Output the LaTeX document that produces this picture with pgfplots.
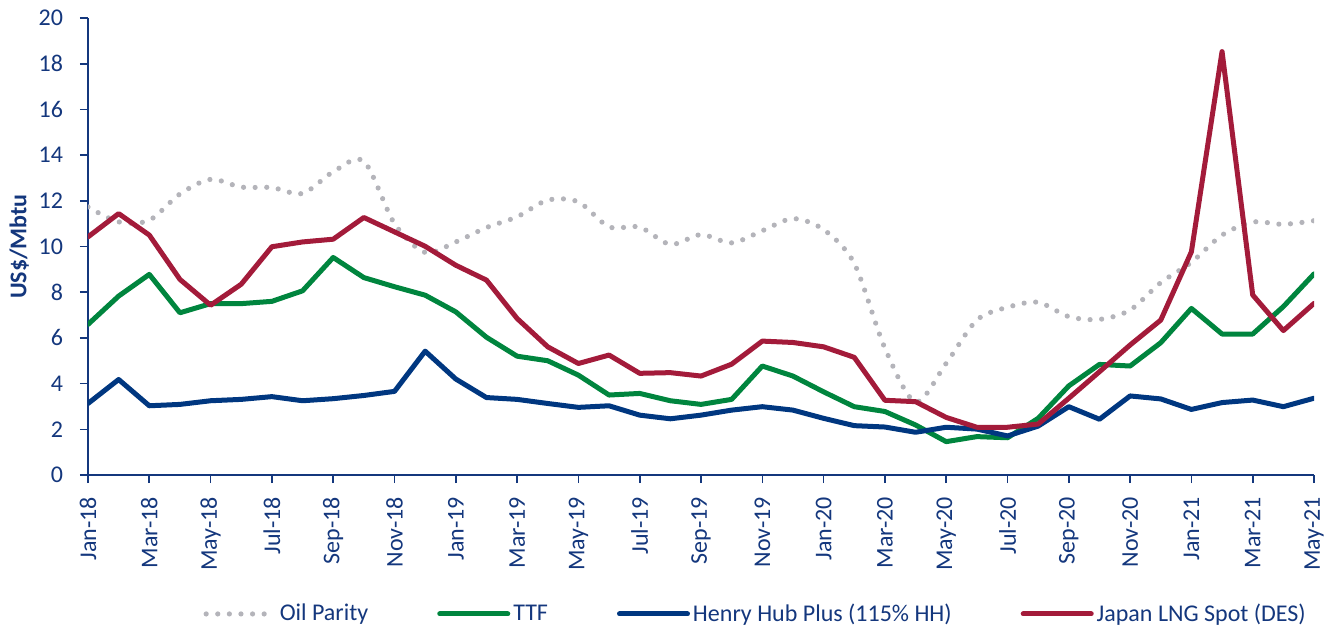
\documentclass[border=0pt]{standalone}
\usepackage{fontspec}
\setmainfont{Carlito}
\usepackage{pgfplots}
\pgfplotsset{compat=1.18}
\definecolor{navy}{RGB}{20,55,125}
\definecolor{oilgray}{RGB}{180,180,186}
\definecolor{ttfgreen}{RGB}{0,133,62}
\definecolor{hhblue}{RGB}{0,55,128}
\definecolor{lngred}{RGB}{163,27,58}
\begin{document}
\begin{tikzpicture}
\useasboundingbox (-44pt,-76.5pt) rectangle (624pt,237.5pt);
\begin{axis}[
  scale only axis,
  width=613pt, height=228.5pt,
  at={(0,0)}, anchor=south west,
  xmin=0, xmax=40, ymin=0, ymax=20,
  axis x line*=bottom, axis y line*=left,
  axis line style={navy, line width=0.9pt, -},
  xtick={0,2,...,40},
  xticklabels={Jan-18,Mar-18,May-18,Jul-18,Sep-18,Nov-18,Jan-19,Mar-19,May-19,Jul-19,Sep-19,Nov-19,Jan-20,Mar-20,May-20,Jul-20,Sep-20,Nov-20,Jan-21,Mar-21,May-21},
  ytick={0,2,...,20},
  tick align=outside,
  major tick length=4pt,
  tick style={navy, line width=0.8pt},
  xticklabel shift=3.5pt,
  yticklabel shift=5pt,
  x tick label style={rotate=90, anchor=east, font=\fontsize{12}{14}\selectfont, text=navy},
  y tick label style={font=\fontsize{12}{14}\selectfont, text=navy},
  /pgf/number format/assume math mode=true,
  ylabel={\textbf{US\$/Mbtu}},
  ylabel style={font=\fontsize{12}{14}\selectfont, text=navy, at={(axis description cs:-0.056,0.5)}, anchor=center},
  legend columns=4,
  legend style={at={(0.545,-0.304)}, anchor=center, draw=none, fill=none,
    font=\fontsize{12}{14}\selectfont, text=navy,
    nodes={inner xsep=1.5pt},
    /tikz/every even column/.append style={column sep=33pt}},
  legend image code/.code={\draw[#1] (0pt,0pt) -- (34pt,0pt);},
  every axis plot/.append style={no markers, line join=round},
]
\addplot[oilgray, line width=2.6pt, line cap=round, dash pattern=on 0pt off 5.8pt, smooth, tension=0.5] coordinates {
(0,11.73)(1,11.08)(2,11.15)(3,12.3)(4,12.94)(5,12.6)(6,12.58)(7,12.32)(8,13.27)(9,13.73)
(10,11.0)(11,9.74)(12,10.2)(13,10.83)(14,11.3)(15,12.03)(16,11.95)(17,10.86)(18,10.85)(19,10.09)
(20,10.52)(21,10.16)(22,10.69)(23,11.22)(24,10.74)(25,9.26)(26,5.55)(27,3.2)(28,4.89)(29,6.78)
(30,7.34)(31,7.56)(32,6.93)(33,6.81)(34,7.22)(35,8.42)(36,9.31)(37,10.5)(38,11.07)(39,10.97)(40,11.13)};
\addlegendentry{Oil Parity}
\addplot[ttfgreen, line width=2.5pt, line cap=round] coordinates {
(0,6.59)(1,7.83)(2,8.78)(3,7.1)(4,7.5)(5,7.5)(6,7.6)(7,8.06)(8,9.52)(9,8.64)
(10,8.24)(11,7.87)(12,7.14)(13,6.03)(14,5.2)(15,5.0)(16,4.37)(17,3.5)(18,3.57)(19,3.25)
(20,3.09)(21,3.31)(22,4.77)(23,4.33)(24,3.64)(25,2.99)(26,2.78)(27,2.19)(28,1.46)(29,1.68)
(30,1.63)(31,2.48)(32,3.9)(33,4.84)(34,4.77)(35,5.79)(36,7.29)(37,6.17)(38,6.17)(39,7.37)(40,8.8)};
\addlegendentry{TTF}
\addplot[hhblue, line width=2.5pt, line cap=round] coordinates {
(0,3.13)(1,4.18)(2,3.03)(3,3.09)(4,3.25)(5,3.31)(6,3.43)(7,3.25)(8,3.34)(9,3.48)
(10,3.66)(11,5.42)(12,4.2)(13,3.39)(14,3.31)(15,3.13)(16,2.96)(17,3.03)(18,2.62)(19,2.46)
(20,2.62)(21,2.84)(22,2.99)(23,2.84)(24,2.48)(25,2.16)(26,2.1)(27,1.87)(28,2.09)(29,2.01)
(30,1.71)(31,2.14)(32,2.99)(33,2.44)(34,3.46)(35,3.33)(36,2.87)(37,3.17)(38,3.28)(39,2.99)(40,3.36)};
\addlegendentry{Henry Hub Plus (115\% HH)}
\addplot[lngred, line width=2.5pt, line cap=round] coordinates {
(0,10.42)(1,11.44)(2,10.5)(3,8.56)(4,7.43)(5,8.35)(6,9.99)(7,10.2)(8,10.32)(9,11.27)
(10,10.64)(11,10.01)(12,9.18)(13,8.53)(14,6.85)(15,5.61)(16,4.88)(17,5.25)(18,4.45)(19,4.48)
(20,4.33)(21,4.85)(22,5.86)(23,5.8)(24,5.61)(25,5.15)(26,3.27)(27,3.21)(28,2.52)(29,2.09)
(30,2.09)(31,2.23)(32,3.36)(33,4.52)(34,5.69)(35,6.78)(36,9.77)(37,18.53)(38,7.88)(39,6.32)(40,7.51)};
\addlegendentry{Japan LNG Spot (DES)}
\end{axis}
\end{tikzpicture}
\end{document}
